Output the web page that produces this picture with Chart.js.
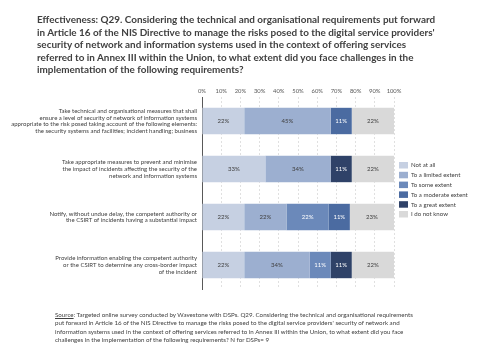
<!DOCTYPE html>
<html><head><meta charset="utf-8">
<script src="https://cdn.jsdelivr.net/npm/chart.js@4/dist/chart.umd.min.js"></script>
<style>
html,body{margin:0;padding:0;background:#fff;width:480px;height:360px;overflow:hidden;}
#wrap{position:relative;width:480px;height:360px;}
#c{position:absolute;left:0;top:0;}
#title{position:absolute;left:37px;top:13px;font-family:Lato,"Liberation Sans",sans-serif;font-weight:bold;color:#404040;line-height:12.6px;white-space:nowrap;}
#source{position:absolute;left:55px;top:311px;font-family:Lato,"Liberation Sans",sans-serif;color:#404040;line-height:8.3px;white-space:nowrap;}
#title div,#source div{white-space:nowrap;}
</style></head>
<body><div id="wrap"><canvas id="c" width="480" height="360"></canvas>
<div id="title"></div><div id="source"></div></div>
<script>
const titleLines = [
 "Effectiveness: Q29. Considering the technical and organisational  requirements put forward",
 "in Article 16 of the NIS Directive to manage the risks posed to the digital service providers'",
 "security of network and information systems used in the context of offering services",
 "referred to in Annex III within the Union, to what extent did you face challenges in the",
 "implementation of the following requirements?"
];
const sourceLines = [
 "<u>Source</u>: Targeted online survey conducted by Wavestone with DSPs. Q29. Considering the technical and organisational requirements",
 "put forward in Article 16 of the NIS Directive to manage the risks posed to the digital service providers' security of network and",
 "information systems used in the context of offering services referred to in Annex III within the Union, to what extent did you face",
 "challenges in the implementation of the following requirements? N for DSPs= 9"
];
const categories = [
 ["Take technical and organisational measures that shall","ensure a level of security of network of information systems","appropriate to the risk posed taking account of the following elements:","the security systems and facilities; incident handling; business"],
 ["Take appropriate measures to prevent and minimise","the impact of incidents affecting the security of the","network and information systems"],
 ["Notify, without undue delay, the competent authority or","the CSIRT of incidents having a substantial impact"],
 ["Provide information enabling the competent authority","or the CSIRT to determine any cross-border impact","of the incident"]
];
const seriesNames = ["Not at all","To a limited extent","To some extent","To a moderate extent","To a great extent","I do not know"];
const notAtAll   = [22,33,22,22];
const limited    = [45,34,22,34];
const someExt    = [0,0,22,11];
const moderate   = [11,0,11,0];
const great      = [0,11,0,11];
const dontKnow   = [22,22,23,22];
const xTicks = [0,10,20,30,40,50,60,70,80,90,100];

const colors = ["#c6d0e2","#9cafd0","#6b89ba","#4b6ba1","#2f4268","#d9d9d9"];
const labelColors = ["#404040","#404040","#ffffff","#ffffff","#ffffff","#404040"];
const values = [notAtAll,limited,someExt,moderate,great,dontKnow];

function fit(el, lines, targetW, baseSize){
  el.innerHTML = lines.map(l=>'<div>'+l+'</div>').join('');
  el.style.fontSize = baseSize+'px';
  let w = 0; for (const d of el.children) w = Math.max(w, d.getBoundingClientRect().width);
  el.style.fontSize = (baseSize*targetW/w)+'px';
}
fit(document.getElementById('title'), titleLines, 399, 10);
fit(document.getElementById('source'), sourceLines, 359, 6);

const FONT = "Lato, 'Liberation Sans', sans-serif";

const dataLabels = {
  id:'dataLabels',
  afterDatasetsDraw(chart){
    const ctx = chart.ctx;
    ctx.save();
    ctx.font = "6px "+FONT;
    ctx.textAlign='center'; ctx.textBaseline='middle';
    chart.data.datasets.forEach((ds,i)=>{
      const meta = chart.getDatasetMeta(i);
      meta.data.forEach((bar,j)=>{
        const v = ds.data[j];
        if(!v) return;
        ctx.fillStyle = labelColors[i];
        ctx.fillText(v+'%', (bar.x+bar.base)/2, bar.y);
      });
    });
    ctx.restore();
  }
};
const customLegend = {
  id:'customLegend',
  afterDraw(chart){
    const ctx = chart.ctx;
    ctx.save();
    ctx.font = "6.1px "+FONT;
    ctx.textAlign='left'; ctx.textBaseline='middle';
    chart.data.datasets.forEach((ds,i)=>{
      const y = 162 + i*9.8;
      ctx.fillStyle = ds.backgroundColor;
      ctx.fillRect(399, y, 9, 6.5);
      ctx.fillStyle = '#404040';
      ctx.fillText(ds.label, 411, y+3.4);
    });
    ctx.restore();
  }
};

new Chart(document.getElementById('c'), {
  type:'bar',
  data:{
    labels: categories,
    datasets: seriesNames.map((n,i)=>({label:n, data:values[i], backgroundColor:colors[i], borderWidth:0, categoryPercentage:1, barPercentage:0.55}))
  },
  options:{
    indexAxis:'y',
    responsive:false,
    animation:false,
    layout:{padding:{left:0,top:0,right:86,bottom:71}},
    plugins:{legend:{display:false}, tooltip:{enabled:false}},
    scales:{
      x:{
        position:'top', stacked:true, min:0, max:100,
        afterBuildTicks(s){ s.ticks = xTicks.map(v=>({value:v})); },
        afterFit(s){ s.height = 97; },
        ticks:{callback:v=>v+'%', font:{size:5.8, family:FONT}, color:'#595959', padding:2, maxRotation:0},
        grid:{color:'#d9d9d9', drawTicks:false, lineWidth:0.8},
        border:{display:false, dash:[2,2]}
      },
      y:{
        stacked:true,
        afterFit(s){ s.width = 202; },
        ticks:{font:{size:6.0, family:FONT, lineHeight:1.12}, color:'#404040', padding:5, autoSkip:false},
        grid:{display:false, drawTicks:false},
        border:{color:'#595959', width:1}
      }
    }
  },
  plugins:[dataLabels, customLegend]
});
</script></body></html>
